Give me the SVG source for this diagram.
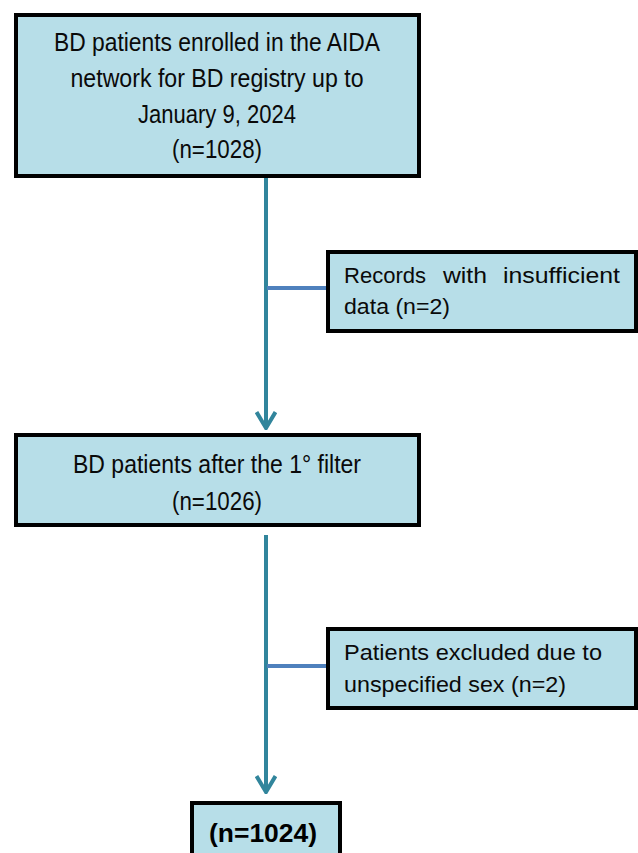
<svg xmlns="http://www.w3.org/2000/svg" width="638" height="853" viewBox="0 0 638 853">
<style>
.box{fill:#B7DEE8;stroke:#000;stroke-width:4}
.t{font-family:"Liberation Sans",Arial,sans-serif;font-size:25px;fill:#0a0a0a;text-anchor:middle}
.s{font-family:"Liberation Sans",Arial,sans-serif;font-size:21.5px;fill:#0a0a0a}
.b{font-family:"Liberation Sans",Arial,sans-serif;font-size:25px;font-weight:bold;fill:#000;text-anchor:middle}
.main{stroke:#31859C;stroke-width:4;fill:none}
.side{stroke:#4F81BD;stroke-width:4;fill:none}
</style>
<defs>
<marker id="arr" viewBox="0 0 20 22" refX="18" refY="11" markerWidth="20" markerHeight="22" markerUnits="userSpaceOnUse" orient="auto">
<path d="M2,1.5 L18,11 L2,20.5" fill="none" stroke="#31859C" stroke-width="4"/>
</marker>
</defs>
<g id="connectors">
<line class="main" x1="266" y1="178" x2="266" y2="428" marker-end="url(#arr)"/>
<line class="side" x1="267" y1="288" x2="328" y2="288"/>
<line class="main" x1="266" y1="535" x2="266" y2="792" marker-end="url(#arr)"/>
<line class="side" x1="267" y1="666" x2="328" y2="666"/>
</g>
<g id="n1">
<rect class="box" x="16" y="15" width="403" height="161"/>
<text class="t" x="217" y="51" textLength="326" lengthAdjust="spacingAndGlyphs">BD patients enrolled in the AIDA</text>
<text class="t" x="217" y="87" textLength="293" lengthAdjust="spacingAndGlyphs">network for BD registry up to</text>
<text class="t" x="217" y="123" textLength="158" lengthAdjust="spacingAndGlyphs">January 9, 2024</text>
<text class="t" x="217" y="158" textLength="90" lengthAdjust="spacingAndGlyphs">(n=1028)</text>
</g>
<g id="n2">
<rect class="box" x="328" y="252" width="308" height="79"/>
<text class="s" y="283"><tspan x="344" textLength="82" lengthAdjust="spacingAndGlyphs">Records</tspan> <tspan x="443" textLength="44" lengthAdjust="spacingAndGlyphs">with</tspan> <tspan x="503" textLength="117" lengthAdjust="spacingAndGlyphs">insufficient</tspan></text>
<text class="s" x="344" y="314" textLength="106" lengthAdjust="spacingAndGlyphs">data (n=2)</text>
</g>
<g id="n3">
<rect class="box" x="16" y="435" width="403" height="90"/>
<text class="t" x="217" y="473" textLength="288" lengthAdjust="spacingAndGlyphs">BD patients after the 1° filter</text>
<text class="t" x="217" y="510" textLength="90" lengthAdjust="spacingAndGlyphs">(n=1026)</text>
</g>
<g id="n4">
<rect class="box" x="328" y="629" width="308" height="79"/>
<text class="s" x="344" y="660" textLength="258" lengthAdjust="spacingAndGlyphs">Patients excluded due to</text>
<text class="s" x="344" y="692" textLength="222" lengthAdjust="spacingAndGlyphs">unspecified sex (n=2)</text>
</g>
<g id="n5">
<rect class="box" x="192" y="803" width="148" height="60"/>
<text class="b" x="263" y="842" textLength="108" lengthAdjust="spacingAndGlyphs">(n=1024)</text>
</g>
</svg>
